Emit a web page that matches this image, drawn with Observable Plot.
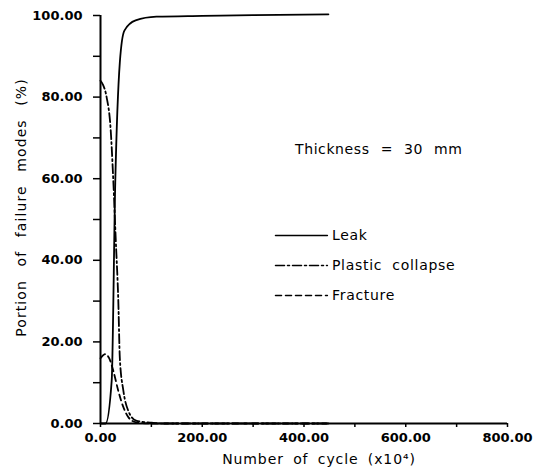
<!DOCTYPE html>
<html>
<head>
<meta charset="utf-8">
<script src="https://cdn.jsdelivr.net/npm/d3@7"></script>
<script src="https://cdn.jsdelivr.net/npm/@observablehq/plot@0.6"></script>
<style>
  html, body { margin: 0; padding: 0; background: #fff; }
  #chart { width: 538px; height: 473px; }
</style>
</head>
<body>
<div id="chart"></div>
<script>
// ---- data ----
const leakCycles    = [0, 10, 22, 29, 38, 47, 69, 110, 200, 300, 448];
const leakValues    = [0, 0, 10.5, 59, 88.5, 96.3, 98.8, 99.7, 99.9, 100.1, 100.3];

const plasticCycles = [0, 5, 12, 20, 25, 30, 35, 38, 45, 55, 70, 100, 120, 448];
const plasticValues = [84, 83, 80, 72, 60, 45, 30, 16, 8, 3, 0.7, 0.2, 0, 0];

const fractureCycles = [0, 10, 17, 25, 35, 45, 55, 70, 100, 448];
const fractureValues = [16, 17, 16, 13, 8, 4, 1.5, 0.3, 0, 0];

const seriesNames = ["Leak", "Plastic collapse", "Fracture"];
const seriesDash  = ["none", "9,3,2,3", "6,4"];
const annotation  = "Thickness = 30 mm";
const xLabel = "Number of cycle (x10\u2074)";
const yLabel = "Portion of failure modes (%)";
const xTicks = d3.range(0, 801, 100);
const yTicks = d3.range(0, 101, 10);

const toRows = (xs, ys, name) => xs.map((x, i) => ({x, y: ys[i], name}));
const rows = [
  ...toRows(leakCycles, leakValues, seriesNames[0]),
  ...toRows(plasticCycles, plasticValues, seriesNames[1]),
  ...toRows(fractureCycles, fractureValues, seriesNames[2])
];

// legend layout (data units)
const legX0 = 344, legX1 = 446, legTextX = 455;
const legY = [46.1, 38.7, 31.4];
const legendRows = seriesNames.flatMap((n, i) => [
  {x: legX0, y: legY[i], name: n}, {x: legX1, y: legY[i], name: n}
]);
const legendText = seriesNames.map((n, i) => ({x: legTextX, y: legY[i], name: n}));

const font = "'DejaVu Sans', Verdana, sans-serif";
const fmt2 = d => d.toFixed(2);

const chart = Plot.plot({
  width: 538,
  height: 473,
  marginLeft: 100,
  marginRight: 31,
  marginTop: 15,
  marginBottom: 50,
  x: {domain: [0, 800]},
  y: {domain: [0, 100]},
  style: {fontFamily: font, background: "#fff", color: "#000", overflow: "visible"},
  marks: [
    Plot.axisY({ticks: yTicks, tickSize: 7, tickPadding: 11, strokeWidth: 1.5,
      tickFormat: d => d % 20 === 0 ? fmt2(d) : "", label: null,
      fontSize: 13, fontWeight: "bold"}),
    Plot.axisX({ticks: xTicks, tickSize: 4, tickPadding: 5, strokeWidth: 1.5,
      tickFormat: d => d % 200 === 0 ? fmt2(d) : "", label: null,
      fontSize: 13, fontWeight: "bold"}),
    Plot.ruleX([0], {strokeWidth: 2}),
    Plot.ruleY([0], {strokeWidth: 2}),
    ...seriesNames.map((n, i) =>
      Plot.line(rows.filter(r => r.name === n), {x: "x", y: "y", stroke: "#000",
        strokeWidth: 1.8, strokeDasharray: seriesDash[i], curve: "monotone-x"})),
    ...seriesNames.map((n, i) =>
      Plot.line(legendRows.filter(r => r.name === n), {x: "x", y: "y", stroke: "#000",
        strokeWidth: 1.5, strokeDasharray: seriesDash[i]})),
    Plot.text(legendText, {x: "x", y: "y", text: "name", textAnchor: "start",
      fontSize: 14, fill: "#000"}),
    Plot.text([annotation], {x: 547, y: 67.2, fontSize: 14, fill: "#000"}),
    Plot.text([xLabel], {frameAnchor: "bottom", dx: 15, dy: 40, fontSize: 14,
      fill: "#000"}),
    Plot.text([yLabel], {frameAnchor: "left", textAnchor: "middle", dx: -79, dy: -12,
      rotate: -90, fontSize: 14, fill: "#000"})
  ]
});
// wider letter/word spacing like the reference typesetting
const spacing = new Map([
  [yLabel, ["1.1px", "8px"]],
  [xLabel, ["0.9px", "4px"]],
  [annotation, ["0.6px", "6px"]],
  ...seriesNames.map(n => [n, ["0.7px", "5px"]])
]);
d3.select(chart).selectAll("text").each(function () {
  const s = spacing.get(this.textContent);
  if (s) d3.select(this).style("letter-spacing", s[0]).style("word-spacing", s[1]);
});
document.getElementById("chart").appendChild(chart);
</script>
</body>
</html>
